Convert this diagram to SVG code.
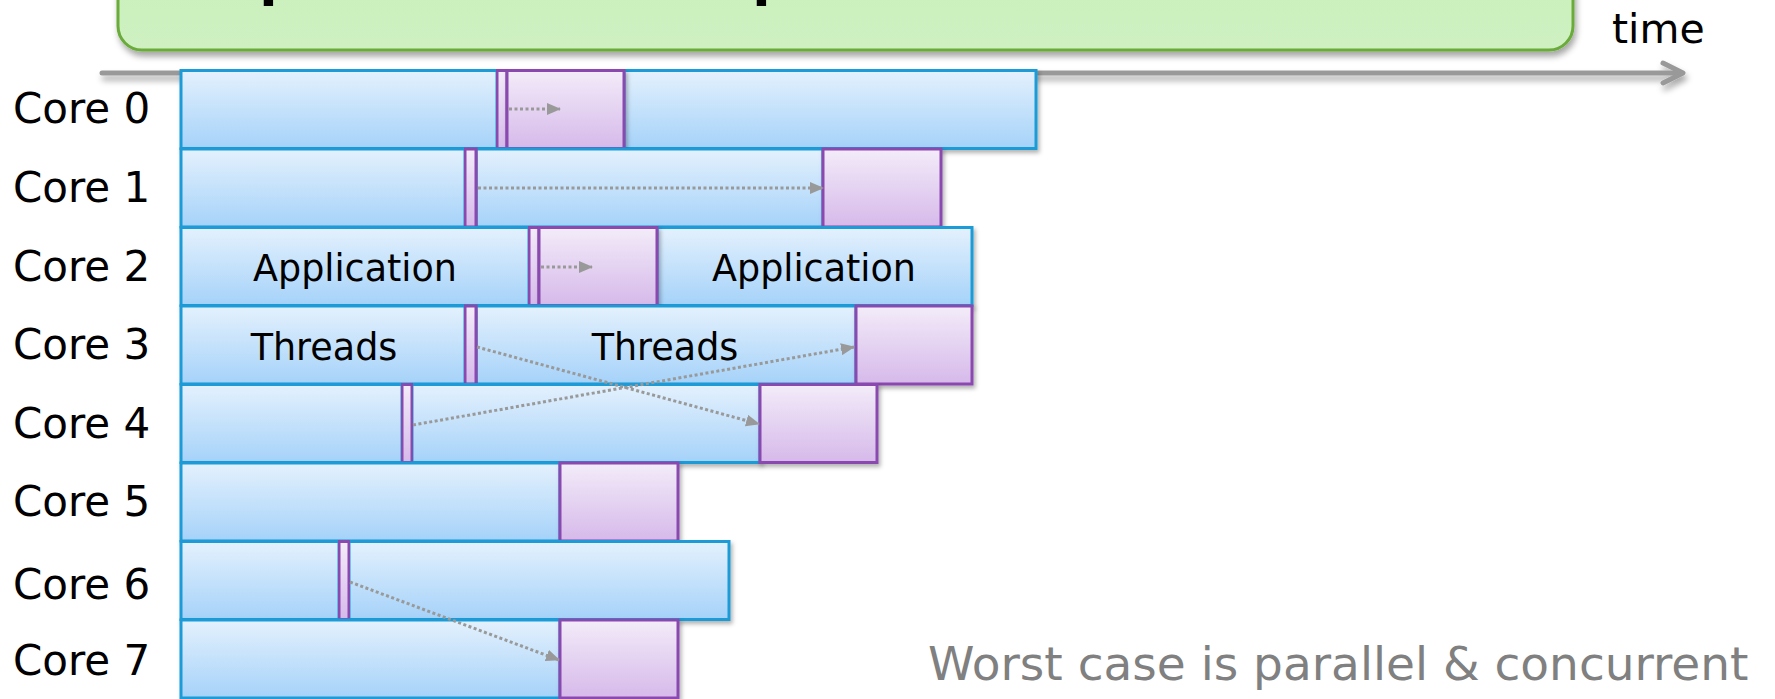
<svg xmlns="http://www.w3.org/2000/svg" width="1775" height="699" viewBox="0 0 1775 699">
<style>
.b{fill:url(#gb);stroke:#1a9bd7;stroke-width:3;filter:url(#sh)}
.p{fill:url(#gp);stroke:#8a48ae;stroke-width:3;filter:url(#sh)}
.lbl{font-family:"DejaVu Sans",Verdana,sans-serif;font-size:42px;fill:#000}
.in{font-family:"DejaVu Sans",Verdana,sans-serif;font-size:36.5px;fill:#000;text-anchor:middle}
.dot{fill:none;stroke:#999;stroke-width:3;stroke-dasharray:3 2.5;marker-end:url(#ah)}
</style>
<defs>
<linearGradient id="gb" x1="0" y1="0" x2="0" y2="1"><stop offset="0" stop-color="#e4f1fd"/><stop offset="1" stop-color="#a5d2f9"/></linearGradient>
<linearGradient id="gp" x1="0" y1="0" x2="0" y2="1"><stop offset="0" stop-color="#f3ecf9"/><stop offset="1" stop-color="#d6b9ea"/></linearGradient>
<linearGradient id="gg" x1="0" y1="0" x2="0" y2="1"><stop offset="0" stop-color="#c4ecb4"/><stop offset="1" stop-color="#cff1c2"/></linearGradient>
<filter id="sh" x="-5%" y="-10%" width="115%" height="130%"><feDropShadow dx="2" dy="3" stdDeviation="2" flood-color="#000" flood-opacity="0.3"/></filter>
<filter id="sh2" x="-5%" y="-50%" width="110%" height="300%"><feDropShadow dx="2" dy="5" stdDeviation="3" flood-color="#000" flood-opacity="0.35"/></filter>
<marker id="ah" markerUnits="userSpaceOnUse" markerWidth="14" markerHeight="12" refX="13" refY="6" orient="auto"><path d="M0,0 L14,6 L0,12 z" fill="#999"/></marker>
</defs>
<g id="title">
<rect x="118" y="-120" width="1455" height="170" rx="24" ry="24" fill="url(#gg)" stroke="#6aab3a" stroke-width="3" filter="url(#sh2)"/>
<text x="259" y="-8" font-family="Liberation Sans,Arial,sans-serif" font-weight="bold" font-size="68" fill="#000">p</text>
<text x="752" y="-8" font-family="Liberation Sans,Arial,sans-serif" font-weight="bold" font-size="68" fill="#000">p</text>
</g>
<g id="axis">
<g filter="url(#sh2)" stroke="#999" stroke-width="5" fill="none" stroke-linecap="round" stroke-linejoin="round">
<line x1="102" y1="73" x2="1681" y2="73"/>
<polyline points="1663,63 1683,73 1663,83"/>
</g>
<text x="1612" y="43" class="lbl" style="font-size:41px">time</text>
</g>
<g id="labels">
<text class="lbl" x="13" y="123">Core 0</text>
<text class="lbl" x="13" y="202">Core 1</text>
<text class="lbl" x="13" y="281">Core 2</text>
<text class="lbl" x="13" y="359">Core 3</text>
<text class="lbl" x="13" y="438">Core 4</text>
<text class="lbl" x="13" y="516">Core 5</text>
<text class="lbl" x="13" y="599">Core 6</text>
<text class="lbl" x="13" y="675">Core 7</text>
</g>
<g id="row0">
<rect class="b" x="181" y="70.5" width="316" height="78"/>
<rect class="b" x="624" y="70.5" width="412" height="78"/>
<rect class="p" x="497" y="70.5" width="10" height="78"/>
<rect class="p" x="507" y="70.5" width="117" height="78"/>
</g>
<g id="row1">
<rect class="b" x="181" y="149" width="284" height="78"/>
<rect class="b" x="476" y="149" width="347" height="78"/>
<rect class="p" x="465" y="149" width="11" height="78"/>
<rect class="p" x="823" y="149" width="118" height="78"/>
</g>
<g id="row2">
<rect class="b" x="181" y="227.5" width="348" height="78"/>
<rect class="b" x="657" y="227.5" width="315" height="78"/>
<rect class="p" x="529" y="227.5" width="10" height="78"/>
<rect class="p" x="539" y="227.5" width="118" height="78"/>
<text class="in" x="355" y="281">Application</text>
<text class="in" x="814" y="281">Application</text>
</g>
<g id="row3">
<rect class="b" x="181" y="306" width="284" height="78"/>
<rect class="b" x="476" y="306" width="380" height="78"/>
<rect class="p" x="465" y="306" width="11" height="78"/>
<rect class="p" x="856" y="306" width="116" height="78"/>
<text class="in" x="324" y="360">Threads</text>
<text class="in" x="665" y="360">Threads</text>
</g>
<g id="row4">
<rect class="b" x="181" y="384.5" width="221" height="78"/>
<rect class="b" x="412" y="384.5" width="348" height="78"/>
<rect class="p" x="402" y="384.5" width="10" height="78"/>
<rect class="p" x="760" y="384.5" width="117" height="78"/>
</g>
<g id="row5">
<rect class="b" x="181" y="463" width="379" height="78"/>
<rect class="p" x="560" y="463" width="118" height="78"/>
</g>
<g id="row6">
<rect class="b" x="181" y="541.5" width="158" height="78"/>
<rect class="b" x="349" y="541.5" width="380" height="78"/>
<rect class="p" x="339" y="541.5" width="10" height="78"/>
</g>
<g id="row7">
<rect class="b" x="181" y="620" width="379" height="78"/>
<rect class="p" x="560" y="620" width="118" height="78"/>
</g>
<g id="connectors">
<line class="dot" x1="509" y1="109" x2="560" y2="109"/>
<line class="dot" x1="478" y1="188" x2="823" y2="188"/>
<line class="dot" x1="541" y1="267" x2="592" y2="267"/>
<line class="dot" x1="477" y1="347" x2="759" y2="424"/>
<line class="dot" x1="413" y1="425" x2="854" y2="347"/>
<line class="dot" x1="350" y1="582" x2="559" y2="660"/>
</g>
<text x="928" y="680" font-family="DejaVu Sans,Verdana,sans-serif" font-size="47" fill="#808080">Worst case is parallel &amp; concurrent</text>
</svg>
